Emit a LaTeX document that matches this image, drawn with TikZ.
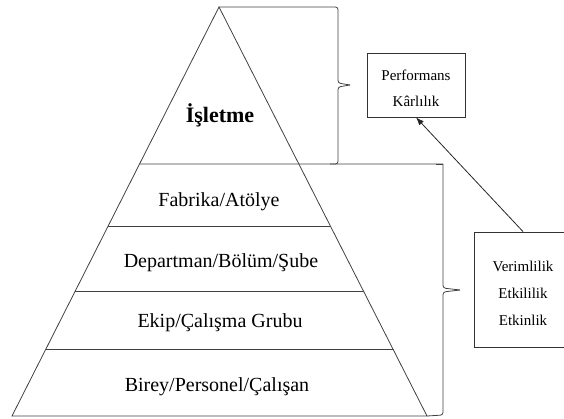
\documentclass[tikz,border=0pt]{standalone}
\usepackage{fontspec}
\setmainfont{Liberation Serif}
\usetikzlibrary{calc,arrows.meta}
\begin{document}
\begin{tikzpicture}[x=1pt,y=-1pt,
    edge/.style={draw=black!75,line width=0.8pt},
    brace/.style={draw=black!75,line width=0.8pt,rounded corners=2.5pt},
    layer/.style={font=\fontsize{20}{24}\selectfont,anchor=base,inner sep=0pt},
    boxtext/.style={font=\fontsize{15}{18}\selectfont,anchor=base,inner sep=0pt},
    infobox/.style={draw=black!80,line width=0.8pt,inner sep=0pt}]
  \useasboundingbox (0,0) rectangle (564,418);
  % pyramid outline
  \coordinate (apex) at (219,7);
  \coordinate (bl) at (12,416);
  \coordinate (br) at (427,416);
  \draw[edge] (bl) -- (apex) -- (br) -- cycle;
  % level separators
  \coordinate (l1) at ($(apex)!0.384!(bl)$);
  \coordinate (r1) at (443,164);
  \foreach \t/\n in {0.5355/2,0.6944/3,0.8362/4}{
    \coordinate (l\n) at ($(apex)!\t!(bl)$);
    \coordinate (r\n) at ($(apex)!\t!(br)$);
  }
  \draw[edge] (l1) -- (r1);
  \draw[edge] (l2) -- (r2);
  \draw[edge] (l3) -- (r3);
  \draw[edge] (l4) -- (r4);
  % level labels
  \node[layer,font=\fontsize{22}{26}\selectfont\bfseries] (isletme) at (220,122) {İşletme};
  \node[layer] (fabrika) at (219,206) {Fabrika/Atölye};
  \node[layer] (departman) at (221,267) {Departman/Bölüm/Şube};
  \node[layer] (ekip) at (220,327) {Ekip/Çalışma Grubu};
  \node[layer] (birey) at (217,391) {Birey/Personel/Çalışan};
  % upper brace
  \coordinate (b1tip) at (350,85);
  \draw[brace] (apex) -- (338,7) -- (338,83) -- (b1tip);
  \draw[brace] (b1tip) -- (338,87) -- (338,164) -- (330,164);
  % lower brace
  \coordinate (b2tip) at (460,290);
  \draw[brace] (r1) -- (443,288) -- (b2tip);
  \draw[brace] (b2tip) -- (443,292) -- (443,415) -- (br);
  \draw[edge] (436,164) -- (r1);
  % outcome boxes
  \node[infobox,minimum width=98,minimum height=64] (perf) at (416,85) {};
  \node[boxtext] (performans) at (416,80) {Performans};
  \node[boxtext] (karlilik) at (416,106.5) {Kârlılık};
  \node[infobox,minimum width=98,minimum height=115] (verim) at (523,289.5) {};
  \node[boxtext] (verimlilik) at (523,271.5) {Verimlilik};
  \node[boxtext] (etkililik) at (523,298) {Etkililik};
  \node[boxtext] (etkinlik) at (523,325) {Etkinlik};
  % link between the boxes
  \draw[draw=black!85,line width=0.8pt,-{Latex[length=8pt,width=6pt]}] (verim.north) -- (perf.south);
\end{tikzpicture}
\end{document}
